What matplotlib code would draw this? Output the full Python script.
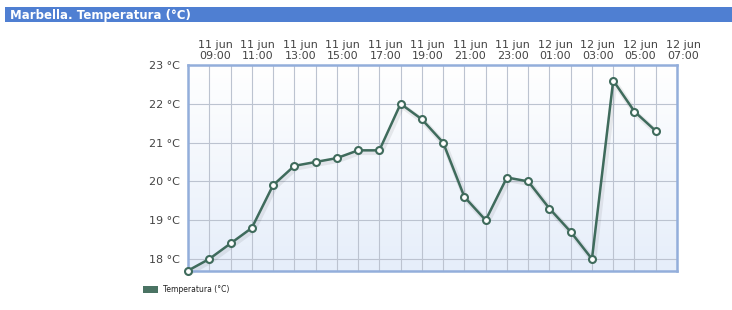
import matplotlib.pyplot as plt
import numpy as np
import matplotlib.transforms as mtransforms
from matplotlib.patches import Rectangle

# hourly readings, 11 jun 08:00 -> 12 jun 06:00
temps = [17.7, 18.0, 18.4, 18.8, 19.9, 20.4, 20.5, 20.6, 20.8, 20.8, 22.0, 21.6,
         21.0, 19.6, 19.0, 20.1, 20.0, 19.3, 18.7, 18.0, 22.6, 21.8, 21.3]
tick_labels = ['11 jun\n09:00', '11 jun\n11:00', '11 jun\n13:00', '11 jun\n15:00',
               '11 jun\n17:00', '11 jun\n19:00', '11 jun\n21:00', '11 jun\n23:00',
               '12 jun\n01:00', '12 jun\n03:00', '12 jun\n05:00', '12 jun\n07:00']
y_ticks = [18, 19, 20, 21, 22, 23]
title = 'Marbella. Temperatura (°C)'
series_name = 'Temperatura (°C)'

line_col = '#3f6b5c'
text_col = '#444444'

fig = plt.figure(figsize=(7.32, 3.10), dpi=100)
fig.patch.set_facecolor('white')

# title bar
fig.patches.append(Rectangle((5/732, 1-22/310), 727/732, 15/310, transform=fig.transFigure,
                             facecolor='#4f7fd2', edgecolor='none'))
fig.text(10/732, 1-15/310, title, color='white', fontsize=8.5, fontweight='bold',
         va='center', ha='left')

ax = fig.add_axes([188/732, 1-271/310, 489/732, 206/310])
x = np.arange(len(temps))

# background gradient
grad = np.linspace(0, 1, 100).reshape(-1, 1)
ax.imshow(grad, extent=(0, 1, 0, 1), transform=ax.transAxes, aspect='auto',
          cmap=plt.matplotlib.colors.LinearSegmentedColormap.from_list('bg', ['#e6eefa', '#ffffff']),
          origin='lower', zorder=0)

# shadow
shadow = mtransforms.offset_copy(ax.transData, fig=fig, x=1.5, y=-2, units='dots')
ax.plot(x, temps, color='#000000', alpha=0.07, lw=4, transform=shadow, zorder=2, clip_on=False)

ax.plot(x, temps, color=line_col, lw=1.8, marker='o', markersize=5,
        markerfacecolor='white', markeredgecolor=line_col, markeredgewidth=1.5,
        zorder=3, clip_on=False, label=series_name)

ax.set_xlim(0, 23)
ax.set_ylim(17.69, 23)
ax.set_xticks(np.arange(1, 24, 2))
ax.set_xticks(np.arange(0, 24, 1), minor=True)
ax.set_xticklabels(tick_labels)
ax.xaxis.tick_top()
ax.set_yticks(y_ticks)
ax.set_yticklabels([f'{v} °C' for v in y_ticks])

ax.grid(True, which='both', axis='x', color='#bcc3d0', lw=0.8, zorder=1)
ax.grid(True, which='major', axis='y', color='#bcc3d0', lw=0.8, zorder=1)
ax.set_axisbelow(True)

ax.tick_params(axis='both', which='both', length=0, colors=text_col, labelsize=8)
ax.tick_params(axis='x', pad=3)
ax.tick_params(axis='y', pad=6)

offset = mtransforms.ScaledTranslation(6/100, 0, fig.dpi_scale_trans)
for lab in ax.get_xticklabels():
    lab.set_transform(lab.get_transform() + offset)
    lab.set_linespacing(1.15)

for sp in ax.spines.values():
    sp.set_color('#93aedb')
    sp.set_linewidth(1.8)

# legend
fig.patches.append(Rectangle((143/732, 1-293/310), 15/732, 7/310, transform=fig.transFigure,
                             facecolor='#4a7363', edgecolor='none'))
fig.text(163/732, 1-290/310, series_name, fontsize=5.5, color='#222222', va='center', ha='left')

fig.savefig('out.png', dpi=100)
